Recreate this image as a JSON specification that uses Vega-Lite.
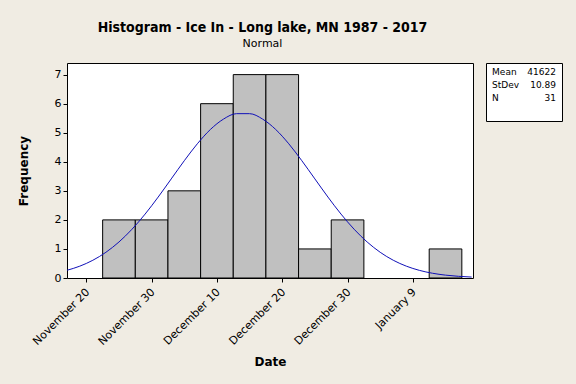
{
  "$schema": "https://vega.github.io/schema/vega-lite/v6.json",
  "background": "#F0ECE3",
  "padding": {"left": 16, "top": 20, "right": 14, "bottom": 15},
  "config": {
    "view": {"stroke": "black", "strokeWidth": 1, "fill": "white"},
    "font": "DejaVu Sans"
  },
  "title": {
    "text": "Histogram - Ice In - Long lake, MN 1987 - 2017",
    "subtitle": "Normal",
    "font": "DejaVu Sans Condensed",
    "fontSize": 14,
    "fontWeight": "bold",
    "color": "black",
    "subtitleFont": "DejaVu Sans",
    "subtitleFontSize": 11,
    "subtitleColor": "black",
    "subtitlePadding": 3,
    "anchor": "middle",
    "offset": 14,
    "dx": -27
  },
  "spacing": 11,
  "hconcat": [
    {
      "width": 406,
      "height": 215,
      "layer": [
        {
          "data": {
            "values": [
              {"start": "2013-11-22T12:00:00", "end": "2013-11-27T12:00:00", "count": 2},
              {"start": "2013-11-27T12:00:00", "end": "2013-12-02T12:00:00", "count": 2},
              {"start": "2013-12-02T12:00:00", "end": "2013-12-07T12:00:00", "count": 3},
              {"start": "2013-12-07T12:00:00", "end": "2013-12-12T12:00:00", "count": 6},
              {"start": "2013-12-12T12:00:00", "end": "2013-12-17T12:00:00", "count": 7},
              {"start": "2013-12-17T12:00:00", "end": "2013-12-22T12:00:00", "count": 7},
              {"start": "2013-12-22T12:00:00", "end": "2013-12-27T12:00:00", "count": 1},
              {"start": "2013-12-27T12:00:00", "end": "2014-01-01T12:00:00", "count": 2},
              {"start": "2014-01-11T12:00:00", "end": "2014-01-16T12:00:00", "count": 1}
            ]
          },
          "mark": {"type": "rect", "fill": "#C0C0C0", "stroke": "black", "strokeWidth": 1},
          "encoding": {
            "x": {
              "field": "start",
              "type": "temporal",
              "title": "Date",
              "scale": {
                "domain": [
                  {"year": 2013, "month": 11, "date": 17, "hours": 1},
                  {"year": 2014, "month": 1, "date": 18, "hours": 5}
                ]
              },
              "axis": {
                "values": [
                  {"year": 2013, "month": 11, "date": 20},
                  {"year": 2013, "month": 11, "date": 30},
                  {"year": 2013, "month": 12, "date": 10},
                  {"year": 2013, "month": 12, "date": 20},
                  {"year": 2013, "month": 12, "date": 30},
                  {"year": 2014, "month": 1, "date": 9}
                ],
                "format": "%B %-d",
                "labelAngle": -45,
                "labelAlign": "right",
                "labelBaseline": "top",
                "labelFontSize": 11,
                "labelColor": "black",
                "labelFont": "DejaVu Sans",
                "labelOverlap": false,
                "labelOffset": -3,
                "tickColor": "black",
                "tickSize": 4,
                "grid": false,
                "domain": false,
                "labelPadding": 4,
                "titleFontSize": 12,
                "titleFontWeight": "bold",
                "titleColor": "black",
                "titlePadding": 10
              }
            },
            "x2": {"field": "end"},
            "y": {
              "field": "count",
              "type": "quantitative",
              "title": "Frequency",
              "scale": {"domain": [0, 7.4], "nice": false},
              "axis": {
                "values": [0, 1, 2, 3, 4, 5, 6, 7],
                "tickCount": 8,
                "labelOverlap": false,
                "labelFontSize": 11,
                "labelColor": "black",
                "tickColor": "black",
                "tickSize": 4,
                "grid": false,
                "domain": false,
                "labelPadding": 2,
                "titleFontSize": 12,
                "titleFontWeight": "bold",
                "titleColor": "black",
                "titlePadding": 24
              }
            }
          }
        },
        {
          "data": {
            "values": [
              {"date": "2013-11-17", "density": 0.2628},
              {"date": "2013-11-19", "density": 0.4074},
              {"date": "2013-11-21", "density": 0.6105},
              {"date": "2013-11-23", "density": 0.8848},
              {"date": "2013-11-25", "density": 1.2398},
              {"date": "2013-11-27", "density": 1.6796},
              {"date": "2013-11-29", "density": 2.1998},
              {"date": "2013-12-01", "density": 2.7856},
              {"date": "2013-12-03", "density": 3.4106},
              {"date": "2013-12-05", "density": 4.0368},
              {"date": "2013-12-07", "density": 4.6197},
              {"date": "2013-12-09", "density": 5.1118},
              {"date": "2013-12-11", "density": 5.4685},
              {"date": "2013-12-13", "density": 5.6561},
              {"date": "2013-12-15", "density": 5.6561},
              {"date": "2013-12-17", "density": 5.4685},
              {"date": "2013-12-19", "density": 5.1118},
              {"date": "2013-12-21", "density": 4.6197},
              {"date": "2013-12-23", "density": 4.0368},
              {"date": "2013-12-25", "density": 3.4106},
              {"date": "2013-12-27", "density": 2.7856},
              {"date": "2013-12-29", "density": 2.1998},
              {"date": "2013-12-31", "density": 1.6796},
              {"date": "2014-01-02", "density": 1.2398},
              {"date": "2014-01-04", "density": 0.8848},
              {"date": "2014-01-06", "density": 0.6105},
              {"date": "2014-01-08", "density": 0.4074},
              {"date": "2014-01-10", "density": 0.2628},
              {"date": "2014-01-12", "density": 0.1639},
              {"date": "2014-01-14", "density": 0.0988},
              {"date": "2014-01-16", "density": 0.0576},
              {"date": "2014-01-18", "density": 0.0325}
            ]
          },
          "mark": {"type": "line", "color": "#1010B8", "strokeWidth": 1, "interpolate": "monotone", "clip": true},
          "encoding": {
            "x": {"field": "date", "type": "temporal"},
            "y": {
              "field": "density",
              "type": "quantitative",
              "axis": {
                "values": [0, 1, 2, 3, 4, 5, 6, 7],
                "tickCount": 8,
                "labelOverlap": false
              }
            }
          }
        }
      ]
    },
    {
      "width": 76,
      "height": 58,
      "data": {
        "values": [
          {"stat": "Mean", "value": "41622", "row": 1},
          {"stat": "StDev", "value": "10.89", "row": 2},
          {"stat": "N", "value": "31", "row": 3}
        ]
      },
      "layer": [
        {
          "mark": {"type": "text", "align": "left", "baseline": "middle", "fontSize": 9, "color": "black"},
          "encoding": {
            "x": {"datum": 0.08, "type": "quantitative", "scale": {"domain": [0, 1]}, "axis": null},
            "y": {"field": "row", "type": "quantitative", "scale": {"domain": [0.36, 4.72], "reverse": true, "nice": false, "zero": false}, "axis": null},
            "text": {"field": "stat"}
          }
        },
        {
          "mark": {"type": "text", "align": "right", "baseline": "middle", "fontSize": 9, "color": "black"},
          "encoding": {
            "x": {"datum": 0.92, "type": "quantitative", "scale": {"domain": [0, 1]}, "axis": null},
            "y": {"field": "row", "type": "quantitative"},
            "text": {"field": "value"}
          }
        }
      ]
    }
  ]
}
